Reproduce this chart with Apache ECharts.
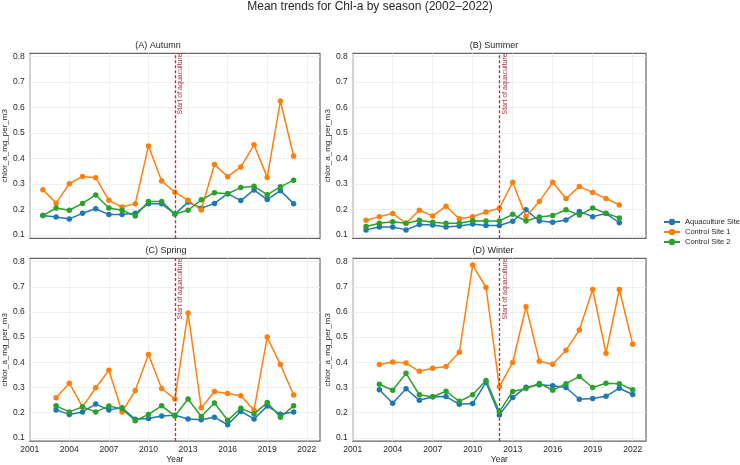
<!DOCTYPE html>
<html>
<head>
<meta charset="utf-8">
<script src="https://cdn.jsdelivr.net/npm/echarts@6/dist/echarts.min.js"></script>
<style>
  html, body { margin: 0; padding: 0; background: #fff; }
  #chart { width: 740px; height: 465px; }
</style>
</head>
<body>
<div id="chart"></div>
<script>
// --- data ---
const siteNames = ['Aquaculture Site', 'Control Site 1', 'Control Site 2']
const siteColors = ['#1f77b4', '#ff7f0e', '#2ca02c']
const panelTitles = ['(A) Autumn', '(B) Summer', '(C) Spring', '(D) Winter']
const yearTicks = [2001, 2004, 2007, 2010, 2013, 2016, 2019, 2022]
const valueTicks = [0.1, 0.2, 0.3, 0.4, 0.5, 0.6, 0.7, 0.8]
const aquacultureStart = 2012

const autumnYears = [2002, 2003, 2004, 2005, 2006, 2007, 2008, 2009, 2010, 2011, 2012, 2013, 2014, 2015, 2016, 2017, 2018, 2019, 2020, 2021]
const autumnAqua = [0.176, 0.171, 0.163, 0.185, 0.203, 0.180, 0.180, 0.185, 0.223, 0.223, 0.182, 0.229, 0.205, 0.224, 0.262, 0.235, 0.277, 0.239, 0.274, 0.223]
const autumnCtrl1 = [0.278, 0.225, 0.301, 0.330, 0.325, 0.236, 0.210, 0.223, 0.449, 0.312, 0.268, 0.236, 0.198, 0.377, 0.329, 0.367, 0.454, 0.326, 0.626, 0.410]
const autumnCtrl2 = [0.176, 0.206, 0.197, 0.224, 0.257, 0.206, 0.197, 0.175, 0.231, 0.231, 0.182, 0.197, 0.238, 0.266, 0.262, 0.286, 0.291, 0.258, 0.289, 0.315]

const summerYears = [2002, 2003, 2004, 2005, 2006, 2007, 2008, 2009, 2010, 2011, 2012, 2013, 2014, 2015, 2016, 2017, 2018, 2019, 2020, 2021]
const summerAqua = [0.120, 0.131, 0.131, 0.120, 0.141, 0.139, 0.131, 0.135, 0.143, 0.137, 0.137, 0.154, 0.199, 0.155, 0.150, 0.159, 0.192, 0.172, 0.184, 0.148]
const summerCtrl1 = [0.158, 0.172, 0.184, 0.146, 0.197, 0.175, 0.213, 0.164, 0.172, 0.190, 0.205, 0.307, 0.172, 0.231, 0.307, 0.243, 0.290, 0.267, 0.243, 0.218]
const summerCtrl2 = [0.133, 0.146, 0.152, 0.146, 0.158, 0.150, 0.146, 0.146, 0.156, 0.155, 0.155, 0.181, 0.155, 0.171, 0.176, 0.199, 0.178, 0.206, 0.185, 0.167]

const springYears = [2003, 2004, 2005, 2006, 2007, 2008, 2009, 2010, 2011, 2012, 2013, 2014, 2015, 2016, 2017, 2018, 2019, 2020, 2021]
const springAqua = [0.211, 0.193, 0.203, 0.234, 0.211, 0.219, 0.174, 0.177, 0.187, 0.190, 0.175, 0.172, 0.182, 0.152, 0.205, 0.175, 0.226, 0.194, 0.203]
const springCtrl1 = [0.259, 0.317, 0.223, 0.299, 0.368, 0.203, 0.288, 0.431, 0.296, 0.254, 0.596, 0.219, 0.284, 0.276, 0.267, 0.210, 0.500, 0.391, 0.270]
const springCtrl2 = [0.227, 0.203, 0.223, 0.203, 0.226, 0.215, 0.168, 0.193, 0.227, 0.187, 0.254, 0.185, 0.238, 0.170, 0.217, 0.195, 0.240, 0.182, 0.227]

const winterYears = [2003, 2004, 2005, 2006, 2007, 2008, 2009, 2010, 2011, 2012, 2013, 2014, 2015, 2016, 2017, 2018, 2019, 2020, 2021, 2022]
const winterAqua = [0.291, 0.237, 0.295, 0.249, 0.263, 0.264, 0.233, 0.236, 0.320, 0.191, 0.260, 0.301, 0.311, 0.307, 0.300, 0.253, 0.256, 0.265, 0.297, 0.272]
const winterCtrl1 = [0.391, 0.401, 0.397, 0.364, 0.376, 0.383, 0.440, 0.786, 0.697, 0.303, 0.399, 0.621, 0.404, 0.392, 0.448, 0.528, 0.689, 0.436, 0.689, 0.472]
const winterCtrl2 = [0.313, 0.289, 0.356, 0.271, 0.263, 0.285, 0.245, 0.271, 0.328, 0.204, 0.284, 0.296, 0.316, 0.289, 0.315, 0.344, 0.300, 0.317, 0.315, 0.291]

const panels = [
  { years: autumnYears, values: [autumnAqua, autumnCtrl1, autumnCtrl2] },
  { years: summerYears, values: [summerAqua, summerCtrl1, summerCtrl2] },
  { years: springYears, values: [springAqua, springCtrl1, springCtrl2] },
  { years: winterYears, values: [winterAqua, winterCtrl1, winterCtrl2] }
]

// --- layout ---
const FONT = 'Liberation Sans, Arial, sans-serif'
const TEXT_COLOR = '#262626'
const gridBoxes = [
  { left: 26.7, top: 53.3 },
  { left: 352.7, top: 53.3 },
  { left: 26.7, top: 258.3 },
  { left: 352.7, top: 258.3 }
]
const titleSpots = [[158, 46], [494, 46], [166, 251], [493, 251]]

const chart = echarts.init(document.getElementById('chart'), null, { renderer: 'canvas' })

const grid = gridBoxes.map(b => ({
  left: b.left,
  top: b.top,
  width: 293.3,
  height: 185,
  show: true,
  borderColor: '#666',
  borderWidth: 1.2,
  backgroundColor: '#fff',
  containLabel: false
}))

const xAxis = gridBoxes.map((b, i) => {
  const bottomRow = i >= 2
  return {
    type: 'value',
    gridIndex: i,
    min: 2001,
    max: 2023,
    name: bottomRow ? 'Year' : '',
    nameLocation: 'middle',
    nameGap: 13,
    nameTextStyle: { fontFamily: FONT, fontSize: 8.5, color: TEXT_COLOR },
    axisLine: { show: false },
    axisTick: { show: false, customValues: yearTicks },
    axisLabel: {
      show: bottomRow,
      customValues: yearTicks,
      margin: 4,
      fontFamily: FONT,
      fontSize: 8.5,
      color: TEXT_COLOR,
      formatter: v => String(v)
    },
    splitLine: { show: true, lineStyle: { color: '#ebebeb', width: 0.8 } }
  }
})

const yAxis = gridBoxes.map((b, i) => ({
  type: 'value',
  gridIndex: i,
  min: 0.087,
  max: 0.813,
  name: 'chlor_a_mg_per_m3',
  nameLocation: 'middle',
  nameGap: 17,
  nameTextStyle: { fontFamily: FONT, fontSize: 8, color: TEXT_COLOR },
  axisLine: { show: false },
  axisTick: { show: false, customValues: valueTicks },
  axisLabel: {
    customValues: valueTicks,
    margin: 5,
    fontFamily: FONT,
    fontSize: 8.5,
    color: TEXT_COLOR,
    formatter: v => v.toFixed(1)
  },
  splitLine: { show: true, lineStyle: { color: '#ebebeb', width: 0.8 } }
}))

const series = []
panels.forEach((p, i) => {
  p.values.forEach((vals, k) => {
    const s = {
      type: 'line',
      name: siteNames[k],
      xAxisIndex: i,
      yAxisIndex: i,
      data: p.years.map((y, j) => [y, vals[j]]),
      symbol: 'circle',
      symbolSize: 5.5,
      showSymbol: true,
      lineStyle: { width: 1.5, color: siteColors[k] },
      itemStyle: { color: siteColors[k] },
      emphasis: { disabled: true },
      z: 3 + k
    }
    if (k === 0) {
      s.markLine = {
        silent: true,
        symbol: ['none', 'none'],
        animation: false,
        lineStyle: { color: '#c8262f', type: [3, 2], width: 1.3, opacity: 1 },
        label: {
          show: true,
          formatter: 'Start of aquaculture',
          position: 'insideEndBottom',
          distance: [0, 2],
          fontFamily: FONT,
          fontSize: 7,
          color: '#a8323a'
        },
        data: [{ xAxis: aquacultureStart }]
      }
    }
    series.push(s)
  })
})

const graphic = [
  {
    type: 'text',
    x: 370,
    y: 7,
    style: {
      text: 'Mean trends for Chl-a by season (2002–2022)',
      font: '12px ' + FONT,
      fill: TEXT_COLOR,
      align: 'center',
      verticalAlign: 'middle'
    }
  }
].concat(panelTitles.map((t, i) => ({
  type: 'text',
  x: titleSpots[i][0],
  y: titleSpots[i][1],
  style: {
    text: t,
    font: '9px ' + FONT,
    fill: TEXT_COLOR,
    align: 'center',
    verticalAlign: 'middle'
  }
})))

const option = {
  animation: false,
  backgroundColor: '#fff',
  grid,
  xAxis,
  yAxis,
  legend: {
    orient: 'vertical',
    left: 663,
    top: 218,
    itemWidth: 16,
    itemHeight: 8,
    itemGap: 2,
    padding: 0,
    data: siteNames,
    textStyle: { fontFamily: FONT, fontSize: 7.5, color: TEXT_COLOR, lineHeight: 8 }
  },
  graphic,
  series
}

chart.setOption(option)
window.addEventListener('resize', () => chart.resize())
</script>
</body>
</html>
